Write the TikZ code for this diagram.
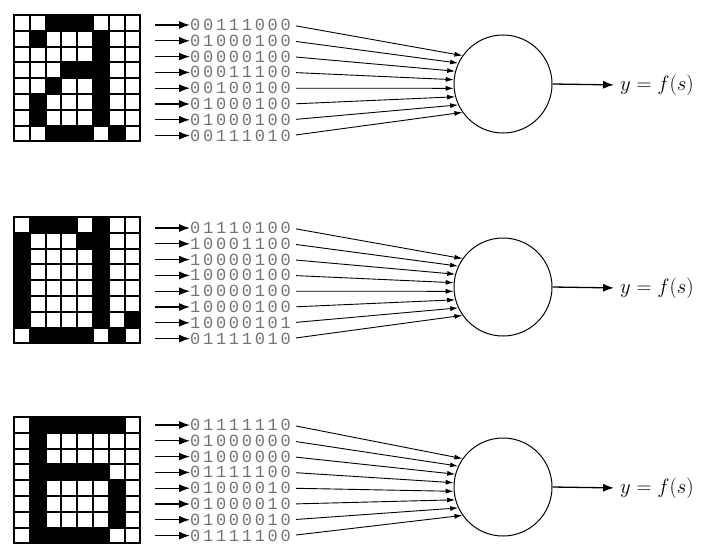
\documentclass[tikz,border=0pt]{standalone}
\usepackage{fontspec}
\newfontfamily\binfont[LetterSpace=16]{Liberation Mono}
\usetikzlibrary{arrows.meta}
\begin{document}
\begin{tikzpicture}[x=1pt,y=-1pt,
  bits/.style={font=\binfont\fontsize{17}{17}\selectfont, text=black!55, inner sep=0pt,
    text height=11pt, text depth=0pt, anchor=west},
  inarrow/.style={-{Latex[length=11pt,width=8pt]}, line width=1.3pt},
  conn/.style={-{Latex[length=8pt,width=5pt]}, line width=0.9pt},
  neuron/.style={circle, draw, line width=1pt, minimum size=98pt, inner sep=0pt},
  outlabel/.style={font=\fontsize{20}{20}\selectfont, anchor=west, inner sep=0pt},
  cellgrid/.style={line width=2pt, line cap=rect}]
\useasboundingbox (0,0) rectangle (703,546);

\newcommand\panel[6]{%
  \foreach \row [count=\r from 0] in {#5} {
    \foreach \b [count=\c from 0] in \row {
      \ifnum\b=1 \fill (14+\c*15.8, #2+\r*15.8) rectangle ++(15.8,15.8); \fi
    }
  }
  \foreach \g in {0,...,8} {
    \draw[cellgrid] (14+\g*15.8,#2) -- ++(0,126.4);
    \draw[cellgrid] (14,#2+\g*15.8) -- ++(126.4,0);
  }
  \node[neuron] (c#1) at (503,#4) {};
  \foreach \s [count=\i from 0] in {#6} {
    \node[bits] (b#1-\i) at (190,#3+\i*15.8) {\s};
    \coordinate (s#1-\i) at (155,#3+\i*15.8);
    \draw[inarrow] (s#1-\i) -- (b#1-\i.west);
    \pgfmathtruncatemacro\ang{145+\i*10}
    \draw[conn, shorten <=5pt] (b#1-\i.east) -- (c#1.\ang);
  }
  \node[outlabel] (y#1) at (620,#4+1) {$y = f(s)$};
  \draw[inarrow, shorten >=6pt] (c#1.east) -- (y#1.west);
}

\panel{1}{15}{25}{84}
  {{0,0,1,1,1,0,0,0},{0,1,0,0,0,1,0,0},{0,0,0,0,0,1,0,0},{0,0,0,1,1,1,0,0},
   {0,0,1,0,0,1,0,0},{0,1,0,0,0,1,0,0},{0,1,0,0,0,1,0,0},{0,0,1,1,1,0,1,0}}
  {00111000,01000100,00000100,00011100,00100100,01000100,01000100,00111010}
\panel{2}{217}{228}{287}
  {{0,1,1,1,0,1,0,0},{1,0,0,0,1,1,0,0},{1,0,0,0,0,1,0,0},{1,0,0,0,0,1,0,0},
   {1,0,0,0,0,1,0,0},{1,0,0,0,0,1,0,0},{1,0,0,0,0,1,0,1},{0,1,1,1,1,0,1,0}}
  {01110100,10001100,10000100,10000100,10000100,10000100,10000101,01111010}
\panel{3}{417}{425}{487}
  {{0,1,1,1,1,1,1,0},{0,1,0,0,0,0,0,0},{0,1,0,0,0,0,0,0},{0,1,1,1,1,1,0,0},
   {0,1,0,0,0,0,1,0},{0,1,0,0,0,0,1,0},{0,1,0,0,0,0,1,0},{0,1,1,1,1,1,0,0}}
  {01111110,01000000,01000000,01111100,01000010,01000010,01000010,01111100}
\end{tikzpicture}
\end{document}
